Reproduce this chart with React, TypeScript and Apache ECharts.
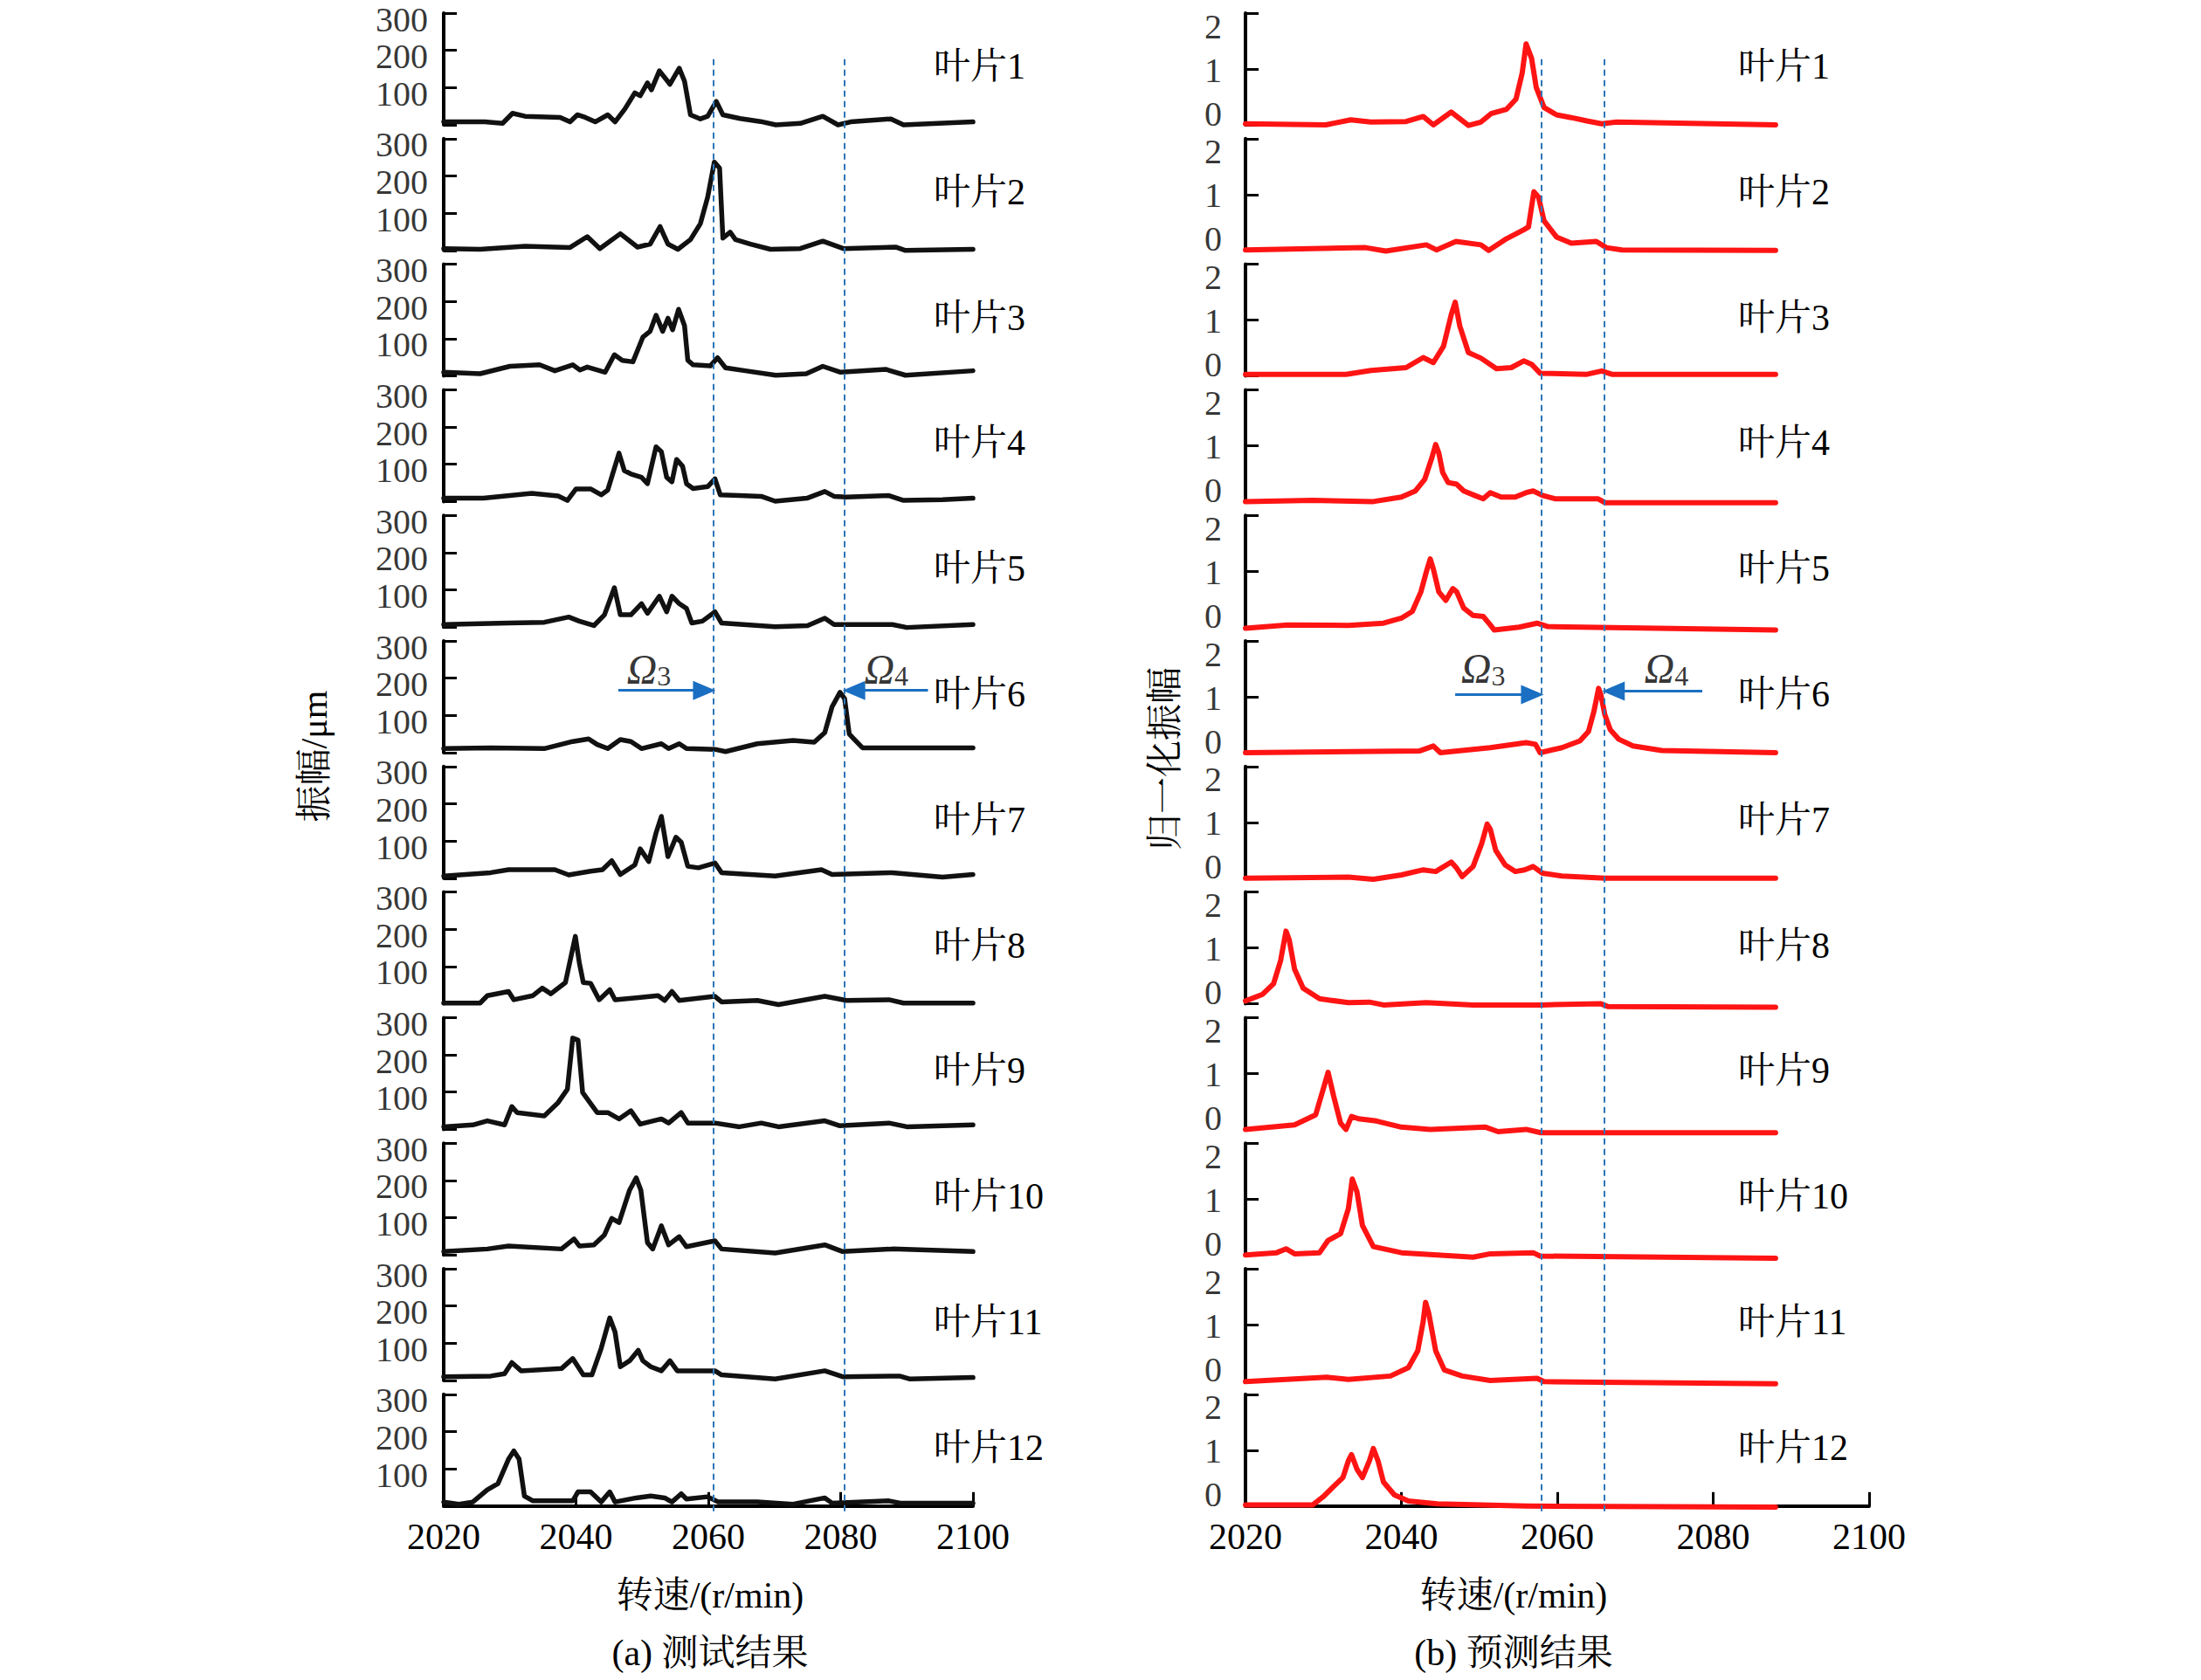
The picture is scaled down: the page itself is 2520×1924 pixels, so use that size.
import React, { useEffect, useRef } from "react";
import * as echarts from "echarts";

// ---------- data (rpm, amplitude) ----------
const bladeLabels = ["叶片1", "叶片2", "叶片3", "叶片4", "叶片5", "叶片6", "叶片7", "叶片8", "叶片9", "叶片10", "叶片11", "叶片12"];
const xTickValues = [2020, 2040, 2060, 2080, 2100];
const testTickLabels = [100, 200, 300];
const predTickLabels = [0, 1, 2];
const omegaLines = { test: [2060.8, 2080.6], pred: [2058, 2066] };

const test1 = [[2020,8],[2026.2,8],[2028.9,4],[2030.4,31],[2032.3,23],[2037.6,20],[2039.1,8],[2040.2,27],[2041.4,20],[2042.9,8],[2044.8,27],[2045.9,8],[2047.4,43],[2048.9,86],[2049.7,78],[2050.8,113],[2051.4,94],[2052.6,145],[2053.5,125],[2054.2,109],[2055.6,152],[2056.4,117],[2057.3,27],[2058.8,16],[2059.9,23],[2061.2,63],[2062.2,27],[2064.8,17],[2067.9,9],[2070.2,0],[2073.9,4],[2077.3,23],[2079.6,0],[2081.5,8],[2087.6,16],[2089.5,0],[2100,8]];
const test2 = [[2020,5],[2025.5,3],[2032.3,11],[2039.1,8],[2041.7,37],[2043.6,5],[2046.7,45],[2049.3,9],[2051.2,17],[2052.7,64],[2053.9,17],[2055.4,3],[2057.3,29],[2058.8,72],[2059.9,143],[2060.9,237],[2061.7,221],[2062.2,33],[2063.3,49],[2064.1,29],[2066.4,17],[2069.4,3],[2073.9,5],[2077.3,25],[2080.4,5],[2088.3,9],[2089.8,0],[2100,3]];
const test3 = [[2020,10],[2025.5,6],[2030,26],[2034.5,30],[2036.8,14],[2039.5,30],[2040.6,16],[2041.7,24],[2044.4,10],[2045.8,57],[2047,42],[2048.6,38],[2050.1,104],[2051.2,120],[2052.1,163],[2053.1,120],[2053.9,155],[2054.6,124],[2055.5,179],[2056.4,135],[2056.9,42],[2057.7,30],[2060.3,27],[2061.4,49],[2062.6,22],[2065.6,14],[2070.2,2],[2074.8,6],[2077.3,26],[2080,10],[2086.8,18],[2089.8,2],[2100,14]];
const test4 = [[2020,9],[2026,9],[2033.3,22],[2037.3,15],[2038.7,3],[2040,34],[2042.2,34],[2043.8,18],[2044.8,31],[2046.5,130],[2047.3,83],[2048.3,74],[2049.9,65],[2050.8,48],[2052.1,147],[2052.9,134],[2053.7,65],[2054.5,53],[2055.2,113],[2056.1,95],[2056.7,48],[2057.7,35],[2059.9,40],[2061,61],[2061.8,18],[2064.7,16],[2068,14],[2070.1,1],[2074.9,9],[2077.6,27],[2079,14],[2080.9,12],[2087.3,16],[2089.5,3],[2095.4,5],[2100,9]];
const test5 = [[2020,7],[2029.8,11],[2035.2,13],[2038.9,27],[2040.5,16],[2042.7,4],[2044.3,33],[2045.8,106],[2046.7,33],[2048.3,33],[2049.9,63],[2050.8,37],[2052.6,83],[2053.7,41],[2054.5,83],[2055.6,63],[2056.7,50],[2057.5,11],[2059.1,16],[2061,41],[2062,11],[2065.3,7],[2070.1,1],[2075,4],[2077.6,24],[2079,7],[2087.8,7],[2090,-1],[2100,7]];
const test6 = [[2020,11],[2027.1,13],[2035.2,11],[2039.5,30],[2041.9,37],[2043.2,22],[2044.8,11],[2046.7,35],[2048.3,30],[2049.9,11],[2052.9,24],[2054,11],[2055.6,24],[2056.7,11],[2061,9],[2062.6,3],[2067.4,24],[2072.8,33],[2076,28],[2077.6,54],[2078.7,123],[2079.9,162],[2080.6,145],[2081.3,50],[2082.2,33],[2083.3,13],[2100,13]];
const test7 = [[2020,6],[2027.1,15],[2029.8,23],[2036.8,23],[2038.9,9],[2042.2,19],[2044,23],[2045.4,47],[2046.7,10],[2048.9,36],[2049.7,79],[2051,45],[2052.1,122],[2052.9,166],[2053.9,58],[2055.1,110],[2055.9,97],[2056.9,32],[2058.5,28],[2061,41],[2062,15],[2070.1,6],[2077.1,23],[2078.7,10],[2087.8,15],[2095.4,3],[2100,10]];
const test8 = [[2020,2],[2025.5,2],[2026.6,22],[2029.8,33],[2030.6,11],[2033.5,22],[2034.9,42],[2036.2,27],[2038.4,57],[2039.9,181],[2040.5,110],[2041.1,57],[2042.2,55],[2043.5,11],[2045.1,38],[2045.9,11],[2049.1,16],[2052.4,22],[2053.4,9],[2054.5,33],[2055.6,9],[2061,20],[2062,5],[2067.4,9],[2070.6,-2],[2077.6,20],[2080.9,9],[2087.3,11],[2089.5,2],[2100,2]];
const test9 = [[2020,7],[2024.4,12],[2026.6,23],[2029.2,12],[2030.3,61],[2031.1,45],[2035.2,36],[2037.3,72],[2038.7,108],[2039.5,245],[2040.3,240],[2041,99],[2041.9,77],[2043.2,45],[2044.8,45],[2046.5,28],[2048.3,50],[2049.7,14],[2052.9,28],[2054,17],[2055.9,45],[2056.9,17],[2061,17],[2064.7,7],[2068,17],[2070.6,7],[2077.6,23],[2079.8,10],[2087.3,17],[2090,7],[2100,12]];
const test10 = [[2020,9],[2026.6,16],[2029.8,24],[2037.8,16],[2039.7,43],[2040.5,24],[2042.7,27],[2044.3,54],[2045.4,98],[2046.5,87],[2048.1,174],[2049.1,207],[2049.8,174],[2050.8,33],[2051.6,16],[2052.9,78],[2054,27],[2055.6,49],[2056.7,22],[2061,38],[2062,16],[2070.1,5],[2077.6,27],[2080.3,9],[2087.8,16],[2100,9]];
const test11 = [[2020,10],[2027.1,12],[2029.2,18],[2030.3,48],[2031.7,26],[2037.8,32],[2039.5,59],[2041.1,15],[2042.4,15],[2043.8,86],[2045.1,168],[2045.9,130],[2046.7,37],[2048.1,53],[2049.4,81],[2050.1,53],[2051.3,37],[2052.9,26],[2054.2,53],[2055.3,26],[2061,26],[2062,15],[2070.1,4],[2077.6,26],[2080.3,10],[2088.9,12],[2090.5,4],[2100,8]];
const test12 = [[2020,11],[2022.3,5],[2024.4,11],[2026.6,44],[2028.2,60],[2029.8,126],[2030.6,148],[2031.4,126],[2032.2,27],[2033.5,14],[2039.5,14],[2040.3,38],[2042.2,38],[2043.8,11],[2045.1,38],[2045.9,11],[2049.1,22],[2051.3,27],[2053.4,22],[2054.5,11],[2055.9,33],[2056.7,19],[2059.9,25],[2061.5,11],[2067.4,11],[2072.8,5],[2077.6,22],[2078.7,8],[2087.3,14],[2089,8],[2100,8]];

const pred1 = [[2020,0.02],[2030.3,0],[2033.5,0.09],[2036.1,0.05],[2040.6,0.06],[2042.8,0.15],[2044.1,0],[2046.4,0.23],[2047.3,0.13],[2048.6,-0.01],[2050.2,0.05],[2051.5,0.2],[2053.5,0.28],[2054.7,0.46],[2055.5,0.93],[2056,1.45],[2056.7,1.19],[2057.3,0.67],[2058.3,0.31],[2059.9,0.18],[2061.8,0.13],[2063.8,0.07],[2065.7,0.02],[2067.6,0.05],[2088,0]];
const pred2 = [[2020,0.01],[2035.4,0.05],[2038,-0.01],[2043.2,0.1],[2044.5,0.01],[2047,0.16],[2050.2,0.1],[2051.2,0],[2053.5,0.21],[2055.7,0.37],[2056.3,0.42],[2057,1.05],[2057.6,0.95],[2058.3,0.53],[2059.9,0.24],[2061.8,0.13],[2065,0.16],[2066.3,0.05],[2068.3,0.01],[2088,0]];
const pred3 = [[2020,0.03],[2032.9,0.03],[2036.1,0.1],[2040.6,0.15],[2042.8,0.33],[2044.1,0.24],[2045.4,0.53],[2046.4,1.1],[2046.9,1.32],[2047.5,0.89],[2048.6,0.42],[2050.2,0.32],[2052.2,0.13],[2054.1,0.15],[2055.7,0.27],[2056.7,0.21],[2057.8,0.05],[2063.8,0.03],[2065.7,0.09],[2067,0.03],[2088,0.03]];
const pred4 = [[2020,0],[2028.6,0.02],[2036.4,0],[2040,0.08],[2041.8,0.19],[2043,0.4],[2043.9,0.78],[2044.4,1.02],[2044.8,0.87],[2045.3,0.52],[2046,0.34],[2047.1,0.31],[2048,0.19],[2049.4,0.11],[2050.5,0.05],[2051.4,0.16],[2052.8,0.08],[2054.6,0.08],[2056,0.16],[2056.9,0.19],[2058.1,0.11],[2059.7,0.05],[2065.2,0.05],[2066.1,-0.02],[2088,-0.02]];
const pred5 = [[2020,-0.02],[2025.4,0.04],[2033.2,0.03],[2037.7,0.07],[2040,0.16],[2041.4,0.28],[2042.5,0.63],[2043.2,0.99],[2043.7,1.22],[2044.1,1.04],[2044.8,0.63],[2045.7,0.48],[2046.6,0.69],[2047.1,0.63],[2048,0.34],[2049.2,0.21],[2050.5,0.19],[2051.4,0.04],[2051.9,-0.05],[2055.1,0],[2057.4,0.07],[2058.8,0.01],[2088,-0.05]];
const pred6 = [[2020,0],[2042.3,0.03],[2044.1,0.12],[2045,0],[2051.4,0.09],[2056,0.18],[2057.2,0.15],[2057.8,0],[2060.6,0.09],[2062.9,0.21],[2064,0.38],[2064.7,0.74],[2065.3,1.15],[2065.6,1.03],[2066.1,0.68],[2066.8,0.41],[2067.9,0.24],[2069.7,0.12],[2073.4,0.04],[2088,0]];
const pred7 = [[2020,0],[2033.2,0.02],[2036.4,-0.02],[2040,0.06],[2042.8,0.15],[2044.4,0.12],[2046.4,0.29],[2047.1,0.18],[2047.8,0.03],[2049.2,0.21],[2050.3,0.62],[2051,0.97],[2051.4,0.88],[2052.1,0.5],[2053.3,0.24],[2054.6,0.12],[2055.8,0.15],[2056.9,0.21],[2058.1,0.09],[2060.6,0.04],[2066.1,0],[2088,0]];
const pred8 = [[2020,0.05],[2022.2,0.17],[2023.6,0.36],[2024.5,0.77],[2025.2,1.3],[2025.6,1.15],[2026.3,0.62],[2027.4,0.28],[2029.5,0.09],[2033.2,0.02],[2035.9,0.03],[2037.7,-0.02],[2043.2,0.02],[2049.2,-0.02],[2057.9,-0.02],[2065.6,0],[2066.5,-0.05],[2088,-0.06]];
const pred9 = [[2020,0],[2026.3,0.08],[2029,0.26],[2030.2,0.83],[2030.6,1.02],[2031.3,0.6],[2032.2,0.11],[2032.9,0],[2033.6,0.23],[2034.5,0.19],[2036.8,0.15],[2040,0.04],[2043.7,0],[2050.8,0.04],[2052.4,-0.04],[2056,0],[2057.9,-0.06],[2088,-0.06]];
const pred10 = [[2020,0],[2024,0.04],[2025.2,0.11],[2026.3,0.02],[2029.5,0.04],[2030.6,0.26],[2032.2,0.38],[2033.2,0.83],[2033.7,1.36],[2034.3,1.13],[2035,0.53],[2036.4,0.15],[2040,0.04],[2049.2,-0.04],[2051.4,0.02],[2056.9,0.04],[2057.8,-0.02],[2088,-0.06]];
const pred11 = [[2020,-0.02],[2030.4,0.06],[2033.2,0.02],[2038.6,0.08],[2040.9,0.23],[2042.1,0.53],[2042.8,1.06],[2043.1,1.4],[2043.5,1.21],[2044.4,0.53],[2045.5,0.19],[2047.8,0.08],[2051.4,0],[2057.4,0.04],[2058.3,-0.02],[2088,-0.06]];
const pred12 = [[2020,0.02],[2028.6,0.02],[2030,0.17],[2031.3,0.35],[2032.5,0.51],[2033.2,0.81],[2033.6,0.92],[2034.3,0.66],[2035,0.51],[2035.9,0.81],[2036.4,1.03],[2037,0.81],[2037.7,0.43],[2039.1,0.2],[2040.9,0.09],[2044.6,0.04],[2056,0],[2088,-0.02]];

const testSeries = [test1, test2, test3, test4, test5, test6, test7, test8, test9, test10, test11, test12];
const predSeries = [pred1, pred2, pred3, pred4, pred5, pred6, pred7, pred8, pred9, pred10, pred11, pred12];

// arrows and Ω labels in the 6th subplot (data coordinates)
const testArrows = [[[2046.4, 167], [2059.4, 167]], [[2093.2, 167], [2082.0, 167]]];
const predArrows = [[[2046.9, 1.04], [2056.8, 1.04]], [[2078.6, 1.1], [2067.2, 1.1]]];
const testOmega = [[2051, 232, "3"], [2086.9, 232, "4"]];
const predOmega = [[2050.5, 1.55, "3"], [2074, 1.55, "4"]];

// ---------- layout ----------
const SERIF = "'Liberation Serif','Times New Roman',serif";
const MIXED = "'Liberation Serif','Times New Roman','Noto Serif CJK SC','Noto Sans CJK SC',serif";
const TOP0 = 15;
const STEP = 143.8;
const H = 128;
const BOTTOM_Y = TOP0 + 11 * STEP + H;

// vertical nudge (px) of each y tick label relative to its tick, as in the original figure
const leftLabelShift = [7, 7, 7];     // for 100, 200, 300
const rightLabelShift = [-13, 1, 15]; // for 0, 1, 2

function buildOption() {
  const grid: any[] = [];
  const xAxis: any[] = [];
  const yAxis: any[] = [];
  const series: any[] = [];
  const graphic: any[] = [];

  const panels = [
    { data: testSeries, x: 508, w: 606, ymax: 300, interval: 100, color: "#111111", width: 5.5, ticks: testTickLabels, shift: leftLabelShift, labelSize: 40, labelMargin: 18, labX: 1069, arrows: testArrows, omegas: testOmega, lines: omegaLines.test },
    { data: predSeries, x: 1426, w: 714, ymax: 2, interval: 1, color: "#ff1414", width: 6, ticks: predTickLabels, shift: rightLabelShift, labelSize: 40, labelMargin: 27, labX: 1990, arrows: predArrows, omegas: predOmega, lines: omegaLines.pred },
  ];

  panels.forEach((p) => {
    p.data.forEach((d, i) => {
      const idx = grid.length;
      const top = TOP0 + i * STEP;
      const isBottom = i === p.data.length - 1;
      grid.push({ left: p.x, top, width: p.w, height: H, outerBoundsMode: "none", containLabel: false });
      xAxis.push({
        type: "value", gridIndex: idx, min: xTickValues[0], max: xTickValues[xTickValues.length - 1], interval: 20,
        show: isBottom,
        axisLine: { show: true, onZero: false, lineStyle: { color: "#000", width: 4 } },
        axisTick: { show: true, inside: true, length: 16, lineStyle: { color: "#000", width: 3 } },
        axisLabel: { show: true, margin: 14, fontSize: 42, color: "#000", fontFamily: SERIF, formatter: (v: number) => String(v) },
        splitLine: { show: false },
      });
      yAxis.push({
        type: "value", gridIndex: idx, min: 0, max: p.ymax, interval: p.interval,
        axisLine: { show: true, onZero: false, lineStyle: { color: "#000", width: 4 } },
        axisTick: { show: true, inside: true, length: 15, lineStyle: { color: "#000", width: 3 } },
        axisLabel: { show: false },
        splitLine: { show: false },
      });
      series.push({
        type: "line", xAxisIndex: idx, yAxisIndex: idx, data: d, showSymbol: false, symbol: "none",
        clip: false, silent: true, z: 3,
        lineStyle: { color: p.color, width: p.width, join: "round", cap: "round" },
      });
      // y tick labels, placed at the tick values through the axis scale
      series.push({
        type: "scatter", xAxisIndex: idx, yAxisIndex: idx, silent: true, clip: false, symbolSize: 0, z: 5,
        data: p.ticks.map((v) => [xTickValues[0], v]),
        label: {
          show: true, position: "left", distance: p.labelMargin,
          fontSize: p.labelSize, lineHeight: 38, fontFamily: SERIF, color: "#000",
          formatter: (prm: any) => String(prm.value[1]),
        },
        labelLayout: (prm: any) => ({ dy: p.shift[prm.dataIndex] || 0, hideOverlap: false }),
      });
      graphic.push({
        type: "text", x: p.labX, y: top + 61, z: 10,
        style: { text: bladeLabels[i], fill: "#000", fontSize: 42, fontFamily: MIXED, align: "left", verticalAlign: "middle" },
      });

      if (i === 5) {
        series.push({
          type: "line", xAxisIndex: idx, yAxisIndex: idx, data: [], showSymbol: false, silent: true,
          lineStyle: { opacity: 0 },
          markLine: {
            silent: true, animation: false, symbol: ["none", "triangle"], symbolSize: [22, 26],
            label: { show: false },
            lineStyle: { color: "#1a6fc2", width: 3, type: "solid" },
            data: p.arrows.map((a) => [{ coord: a[0] }, { coord: a[1] }]),
          },
          z: 6,
        });
        series.push({
          type: "scatter", xAxisIndex: idx, yAxisIndex: idx, silent: true, symbolSize: 0,
          data: p.omegas.map((o) => ({ value: [o[0], o[1]], sub: o[2] })),
          label: {
            show: true, position: "inside",
            formatter: (prm: any) => `{o|Ω}{s|${prm.data.sub}}`,
            rich: {
              o: { fontFamily: SERIF, fontStyle: "italic", fontSize: 48, color: "#000", lineHeight: 54, verticalAlign: "bottom" },
              s: { fontFamily: SERIF, fontSize: 32, color: "#000", lineHeight: 40, verticalAlign: "bottom", padding: [14, 0, 0, 0] },
            },
          },
          z: 6,
        });
      }
    });
  });

  // overlay grids for the dashed Ω reference lines
  panels.forEach((p) => {
    const idx = grid.length;
    grid.push({ left: p.x, top: 65, width: p.w, height: BOTTOM_Y + 6 - 65, outerBoundsMode: "none" });
    xAxis.push({ type: "value", gridIndex: idx, min: 2020, max: 2100, show: false });
    yAxis.push({ type: "value", gridIndex: idx, min: 0, max: 1, show: false });
    series.push({
      type: "line", xAxisIndex: idx, yAxisIndex: idx, data: [[2020, 0]], showSymbol: false, silent: true,
      lineStyle: { opacity: 0 }, z: 8,
      markLine: {
        silent: true, animation: false, symbol: ["none", "none"], label: { show: false },
        lineStyle: { color: "#2e75b6", width: 2, type: [7, 5] },
        data: p.lines.map((v) => ({ xAxis: v })),
      },
    });
  });

  // axis titles and captions
  graphic.push(
    { type: "text", x: 360, y: 866, rotation: Math.PI / 2, style: { text: "振幅/μm", fill: "#000", fontSize: 42, fontFamily: MIXED, align: "center", verticalAlign: "middle" } },
    { type: "text", x: 1334, y: 869, rotation: Math.PI / 2, style: { text: "归一化振幅", fill: "#000", fontSize: 42, fontFamily: MIXED, align: "center", verticalAlign: "middle" } },
    { type: "text", x: 813, y: 1827, style: { text: "转速/(r/min)", fill: "#000", fontSize: 42, fontFamily: MIXED, align: "center", verticalAlign: "middle" } },
    { type: "text", x: 1733, y: 1827, style: { text: "转速/(r/min)", fill: "#000", fontSize: 42, fontFamily: MIXED, align: "center", verticalAlign: "middle" } },
    { type: "text", x: 813, y: 1893, style: { text: "(a) 测试结果", fill: "#000", fontSize: 42, fontFamily: MIXED, align: "center", verticalAlign: "middle" } },
    { type: "text", x: 1733, y: 1893, style: { text: "(b) 预测结果", fill: "#000", fontSize: 42, fontFamily: MIXED, align: "center", verticalAlign: "middle" } },
  );

  return { animation: false, backgroundColor: "#fff", grid, xAxis, yAxis, series, graphic };
}

export default function App() {
  const ref = useRef<HTMLDivElement>(null);
  useEffect(() => {
    const chart = echarts.init(ref.current as HTMLDivElement, undefined, { renderer: "svg" });
    chart.setOption(buildOption() as any);
    return () => chart.dispose();
  }, []);
  return <div ref={ref} style={{ position: "absolute", left: 0, top: 0, width: 2520, height: 1924, background: "#fff" }} />;
}
